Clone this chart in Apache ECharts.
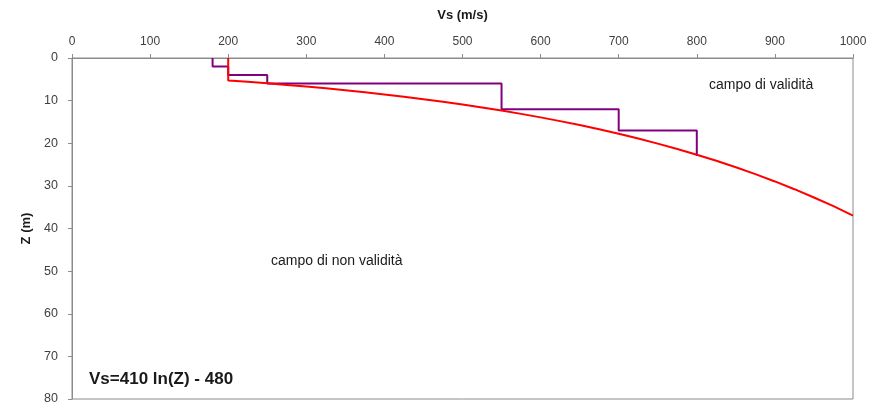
<!DOCTYPE html>
<html>
<head>
<meta charset="utf-8">
<script src="https://cdn.jsdelivr.net/npm/echarts@6/dist/echarts.min.js"></script>
<style>html,body{margin:0;padding:0;background:#fff}#c{width:881px;height:409px}</style>
</head>
<body>
<div id="c"></div>
<script>
// Vs (m/s) values and depths Z (m)
const curveVs = [200, 200, 225, 250, 275, 300, 325, 350, 375, 400, 425, 450, 475, 500, 525, 550, 575, 600, 625, 650, 675, 700, 725, 750, 775, 800, 825, 850, 875, 900, 925, 950, 975, 1000];
const curveZ  = [0, 5.25, 5.58, 5.93, 6.31, 6.70, 7.12, 7.57, 8.05, 8.55, 9.09, 9.66, 10.27, 10.92, 11.60, 12.33, 13.11, 13.93, 14.81, 15.74, 16.73, 17.78, 18.90, 20.09, 21.35, 22.69, 24.12, 25.63, 27.24, 28.96, 30.78, 32.72, 34.77, 36.96];
const profileVs = [180, 180, 200, 200, 250, 250, 550, 550, 700, 700, 800, 800];
const profileZ  = [0, 2, 2, 4, 4, 6, 6, 12, 12, 17, 17, 23];
const xTicks = [0, 100, 200, 300, 400, 500, 600, 700, 800, 900, 1000];
const yTicks = [0, 10, 20, 30, 40, 50, 60, 70, 80];

const pair = (a, b) => a.map((v, i) => [v, b[i]]);
const chart = echarts.init(document.getElementById('c'));
const font = 'Liberation Sans, Arial, sans-serif';
chart.setOption({
  animation: false,
  backgroundColor: '#fff',
  grid: { left: 72, right: 28, top: 58, bottom: 10, show: true, borderColor: '#8c8c8c', borderWidth: 1 },
  xAxis: {
    type: 'value', position: 'top', min: 0, max: 1000, interval: 100,
    name: 'Vs (m/s)', nameLocation: 'middle', nameGap: 36,
    nameTextStyle: { fontFamily: font, fontWeight: 'bold', fontSize: 13, color: '#1a1a1a' },
    axisLine: { show: true, lineStyle: { color: '#8c8c8c', width: 1 } },
    axisTick: { show: true, inside: false, length: 4, lineStyle: { color: '#8c8c8c' } },
    axisLabel: { fontFamily: font, fontSize: 12, color: '#404040', margin: 10, formatter: v => xTicks.includes(v) ? String(v) : '' },
    splitLine: { show: false }
  },
  yAxis: {
    type: 'value', inverse: true, min: 0, max: 80, interval: 10,
    name: 'Z (m)', nameLocation: 'middle', nameGap: 36, nameRotate: 90,
    nameTextStyle: { fontFamily: font, fontWeight: 'bold', fontSize: 13, color: '#1a1a1a' },
    axisLine: { show: true, lineStyle: { color: '#8c8c8c', width: 1 } },
    axisTick: { show: true, inside: false, length: 4, lineStyle: { color: '#8c8c8c' } },
    axisLabel: { fontFamily: font, fontSize: 12.5, color: '#404040', margin: 14, formatter: v => yTicks.includes(v) ? String(v) : '' },
    splitLine: { show: false }
  },
  series: [
    { type: 'line', data: pair(curveVs, curveZ), showSymbol: false, symbol: 'none',
      lineStyle: { color: '#ff0000', width: 2 }, z: 3 },
    { type: 'line', data: pair(profileVs, profileZ), showSymbol: false, symbol: 'none',
      lineStyle: { color: '#800080', width: 2 }, z: 2 }
  ],
  graphic: [
    { type: 'text', left: 709, top: 78, style: { text: 'campo di validità', font: '14px ' + font, fill: '#1a1a1a' } },
    { type: 'text', left: 271, top: 254, style: { text: 'campo di non validità', font: '14px ' + font, fill: '#1a1a1a' } },
    { type: 'text', left: 89, top: 371, style: { text: 'Vs=410 ln(Z) - 480', font: 'bold 17px ' + font, fill: '#1a1a1a' } }
  ]
});
</script>
</body>
</html>
